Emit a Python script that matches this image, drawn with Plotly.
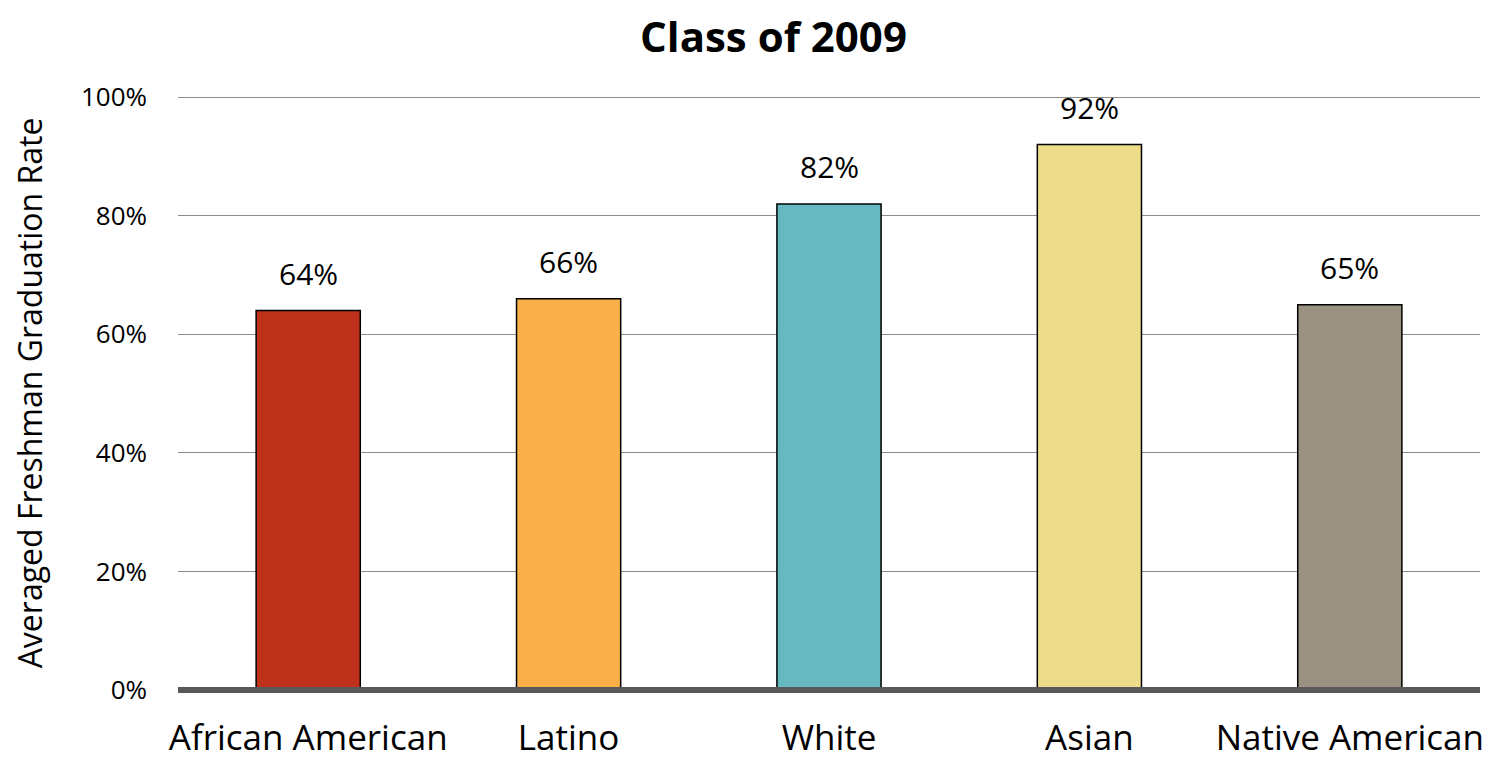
import plotly.graph_objects as go

categories = ["African American", "Latino", "White", "Asian", "Native American"]
values = [0.64, 0.66, 0.82, 0.92, 0.65]
labels = ["64%", "66%", "82%", "92%", "65%"]
colors = ["#BE311B", "#F9AF4A", "#67B9C1", "#EDDC89", "#9A9183"]
yticks = [0, 0.2, 0.4, 0.6, 0.8, 1.0]
yticklabels = ["0%", "20%", "40%", "60%", "80%", "100%"]

FONT = "Open Sans"

fig = go.Figure()
fig.add_trace(go.Bar(
    x=categories, y=values,
    marker=dict(color=colors, line=dict(color="#000000", width=1.5)),
    width=0.4,
    hoverinfo="skip",
))

for c, v, t in zip(categories, values, labels):
    fig.add_annotation(x=c, y=v, text=t, showarrow=False, yanchor="bottom",
                       yshift=15, font=dict(family=FONT, size=30, color="#000000"))

fig.add_shape(type="line", xref="paper", yref="paper", x0=0, x1=1, y0=0, y1=0,
              line=dict(color="#595959", width=6), layer="above")

fig.update_layout(
    width=1498, height=763,
    margin=dict(l=170, r=26, t=88, b=81),
    paper_bgcolor="white", plot_bgcolor="white",
    showlegend=False,
    title=dict(text="<b>Class of 2009</b>", x=0.511, xref="container", xanchor="center",
               y=0.962, yref="container", yanchor="middle",
               font=dict(family=FONT, size=42, color="#000000")),
    font=dict(family=FONT, color="#000000"),
    bargap=0.6,
)
fig.update_xaxes(showgrid=False, showline=False, ticks="", ticklabelstandoff=24,
                 automargin=False,
                 tickfont=dict(family=FONT, size=35, color="#000000"))
fig.update_yaxes(range=[0, 1.002], tickvals=yticks, ticktext=yticklabels,
                 showgrid=True, gridcolor="#8C8C8C", gridwidth=1.3,
                 zeroline=False, showline=False, ticks="",
                 ticklabelstandoff=30, automargin=False,
                 tickfont=dict(family=FONT, size=26, color="#000000"),
                 title=dict(text="Averaged Freshman Graduation Rate", standoff=30,
                            font=dict(family=FONT, size=32, color="#000000")))

fig.write_html("out.html")
